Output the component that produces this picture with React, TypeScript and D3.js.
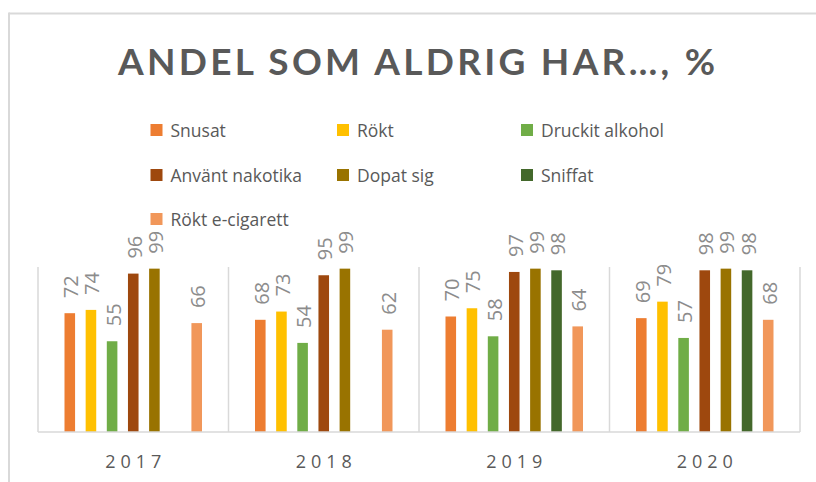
import React from "react";
import * as d3 from "d3";

const years = ["2017", "2018", "2019", "2020"];
const seriesNames = [
  "Snusat",
  "Rökt",
  "Druckit alkohol",
  "Använt nakotika",
  "Dopat sig",
  "Sniffat",
  "Rökt e-cigarett",
];
const seriesColors = ["#ED7D31", "#FFC000", "#70AD47", "#9E480E", "#997300", "#43682B", "#F1975A"];
const snusat = [72, 68, 70, 69];
const rokt = [74, 73, 75, 79];
const druckit = [55, 54, 58, 57];
const anvant = [96, 95, 97, 98];
const dopat = [99, 99, 99, 99];
const sniffat: (number | null)[] = [null, null, 98, 98];
const ecig = [66, 62, 64, 68];
const seriesValues: (number | null)[][] = [snusat, rokt, druckit, anvant, dopat, sniffat, ecig];
const title = "ANDEL SOM ALDRIG HAR…, %";

const W = 816;
const H = 482;
const plotLeft = 38;
const plotRight = 800;
const plotTop = 267;
const plotBottom = 432;

export default function App() {
  const x0 = d3.scaleBand<string>().domain(years).range([plotLeft, plotRight]).padding(0);
  const cw = x0.bandwidth();
  const x1 = d3
    .scaleBand<string>()
    .domain(seriesNames)
    .range([26.5, cw - 26.5])
    .paddingInner(0.5)
    .paddingOuter(0);
  const y = d3.scaleLinear().domain([0, 100]).range([plotBottom, plotTop]);

  const legendCols = [150.5, 337, 521];
  const legendRows = [136.5, 181.5, 225.5];

  const font = "'Open Sans', Lato, sans-serif";

  return (
    <svg
      width={W}
      height={H}
      style={{ position: "absolute", left: 0, top: 0, background: "#fff" }}
      fontFamily={font}
    >
      {/* outer chart border (top and left visible) */}
      <line x1={9} x2={W} y1={13.5} y2={13.5} stroke="#d9d9d9" strokeWidth={2} />
      <line x1={9} x2={9} y1={12.5} y2={H} stroke="#d9d9d9" strokeWidth={2} />

      {/* title */}
      <text
        x={118}
        y={75}
        fontSize={37}
        fontWeight={700}
        fill="#595959"
        fontFamily="Lato, 'Open Sans', sans-serif"
        textLength={597}
        lengthAdjust="spacing"
      >
        {title}
      </text>

      {/* legend */}
      {seriesNames.map((name, i) => {
        const col = i % 3;
        const row = Math.floor(i / 3);
        const lx = legendCols[col];
        const ly = legendRows[row];
        return (
          <g key={name}>
            <rect x={lx} y={ly - 12.5} width={12} height={12} fill={seriesColors[i]} />
            <text x={lx + 20} y={ly} fontSize={17.5} fill="#595959">
              {name}
            </text>
          </g>
        );
      })}

      {/* category separators */}
      {years.map((yr) => (
        <line
          key={"sep" + yr}
          x1={x0(yr)!}
          x2={x0(yr)!}
          y1={plotTop}
          y2={plotBottom}
          stroke="#d9d9d9"
          strokeWidth={1.5}
        />
      ))}
      <line x1={plotRight} x2={plotRight} y1={plotTop} y2={plotBottom} stroke="#d9d9d9" strokeWidth={1.5} />

      {/* bars */}
      {years.map((yr, ci) => (
        <g key={"g" + yr} transform={`translate(${x0(yr)},0)`}>
          {seriesNames.map((name, si) => {
            const v = seriesValues[si][ci];
            if (v == null) return null;
            const bx = x1(name)!;
            const bw = x1.bandwidth();
            const top = y(v);
            return (
              <g key={name}>
                <rect x={bx} y={top} width={bw} height={plotBottom - top} fill={seriesColors[si]} />
                <text
                  transform={`translate(${bx + bw / 2 + 8.5},${top - 15}) rotate(-90)`}
                  fontSize={20}
                  fill="#8c8c8c"
                >
                  {v}
                </text>
              </g>
            );
          })}
        </g>
      ))}

      {/* x axis */}
      <line x1={plotLeft} x2={plotRight} y1={plotBottom} y2={plotBottom} stroke="#d9d9d9" strokeWidth={1.5} />
      {years.map((yr) => (
        <text
          key={"lab" + yr}
          x={x0(yr)! + cw / 2 + 2.5}
          y={468}
          fontSize={18}
          fill="#595959"
          textAnchor="middle"
          letterSpacing={5}
        >
          {yr}
        </text>
      ))}
    </svg>
  );
}
